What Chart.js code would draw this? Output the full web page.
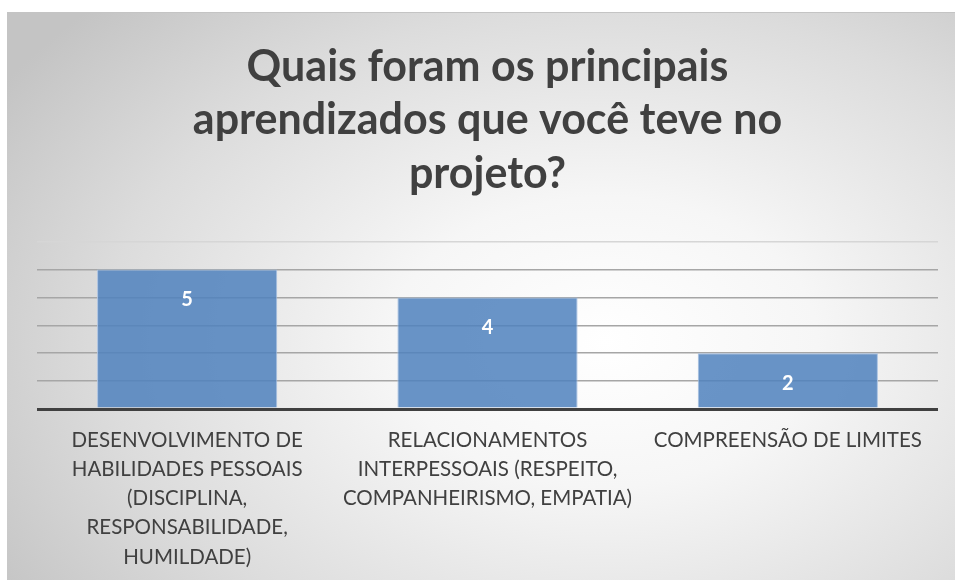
<!DOCTYPE html>
<html>
<head>
<meta charset="utf-8">
<script src="https://cdn.jsdelivr.net/npm/chart.js@4.4.1/dist/chart.umd.min.js"></script>
<style>
  html, body { margin: 0; padding: 0; background: #fff; }
  body { width: 955px; height: 581px; position: relative; overflow: hidden; }
  #box {
    position: absolute; left: 7px; top: 12px; width: 948px; height: 568px;
    background: radial-gradient(ellipse 75% 85% at 63% 58%, #ffffff 0%, #f6f6f6 30%, #dcdcdc 70%, #c4c4c4 100%);
    border-top: 1px solid #c4c4c4; box-sizing: border-box;
  }
  #box canvas { display: block; }
</style>
</head>
<body>
<div id="box"><canvas id="chart" width="948" height="567"></canvas></div>
<script>
const titleLines = ["Quais foram os principais", "aprendizados que você teve no", "projeto?"];
const categories = [
  ["DESENVOLVIMENTO DE", "HABILIDADES PESSOAIS", "(DISCIPLINA,", "RESPONSABILIDADE,", "HUMILDADE)"],
  ["RELACIONAMENTOS", "INTERPESSOAIS (RESPEITO,", "COMPANHEIRISMO, EMPATIA)"],
  ["COMPREENSÃO DE LIMITES"]
];
const values = [5, 4, 2];
const yMax = 6;

const FONT = "Lato, 'Open Sans', sans-serif";

// value labels inside the top of each bar
const barLabels = {
  id: "barLabels",
  afterDatasetsDraw(chart) {
    const ctx = chart.ctx;
    const meta = chart.getDatasetMeta(0);
    ctx.save();
    ctx.fillStyle = "#ffffff";
    ctx.font = "bold 20px " + FONT;
    ctx.textAlign = "center";
    ctx.textBaseline = "middle";
    meta.data.forEach((bar, i) => {
      ctx.fillText(String(values[i]), bar.x, bar.y + 30);
    });
    ctx.restore();
  }
};

new Chart(document.getElementById("chart"), {
  type: "bar",
  data: {
    labels: categories,
    datasets: [{
      data: values,
      backgroundColor: "rgba(79,129,189,0.85)",
      borderColor: "#a9c2e2",
      borderWidth: 1,
      categoryPercentage: 0.6,
      barPercentage: 1
    }]
  },
  options: {
    responsive: false,
    animation: false,
    layout: { padding: { left: 30, right: 17, top: 0, bottom: 0 } },
    plugins: {
      legend: { display: false },
      tooltip: { enabled: false },
      title: {
        display: true,
        text: titleLines,
        color: "#404040",
        font: { family: FONT, size: 43, weight: "bold", lineHeight: 1.245 },
        padding: { top: 27, bottom: 41 }
      }
    },
    scales: {
      x: {
        grid: { display: false, drawTicks: false },
        border: { display: false },
        afterFit: (scale) => { scale.height = 171; },
        ticks: {
          color: "#404040",
          font: { family: FONT, size: 20.5, lineHeight: 1.42 },
          padding: 17,
          maxRotation: 0,
          autoSkip: false
        }
      },
      y: {
        display: true,
        min: 0,
        max: yMax,
        ticks: { display: false, stepSize: 1 },
        border: { display: false },
        grid: {
          drawTicks: false,
          color: (c) => c.tick.value === 0 ? "#404040" : (c.tick.value === yMax ? "#d6d6d6" : "#a6a6a6"),
          lineWidth: (c) => c.tick.value === 0 ? 3 : 1.5
        }
      }
    }
  },
  plugins: [barLabels]
});
</script>
</body>
</html>
